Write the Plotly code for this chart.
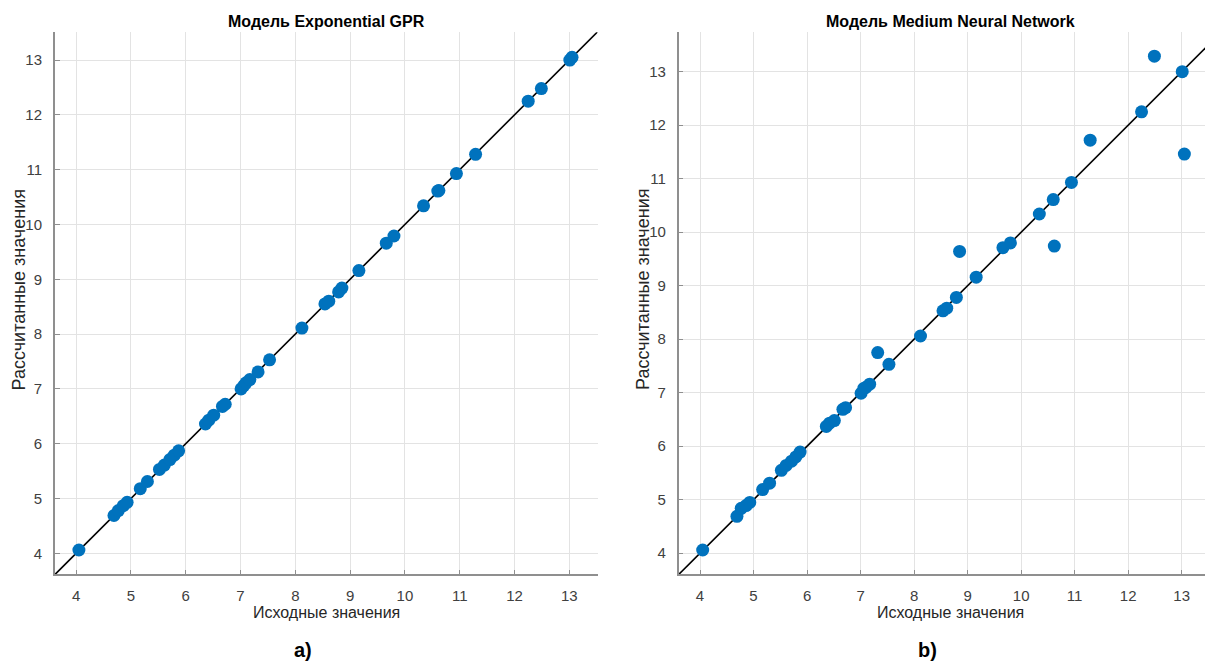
import plotly.graph_objects as go

# ---- data ----
x_true = [4.05, 4.69, 4.77, 4.86, 4.93, 5.17, 5.30, 5.52, 5.61, 5.71, 5.79, 5.87,
          6.36, 6.42, 6.51, 6.67, 6.72, 7.01, 7.06, 7.10, 7.17, 7.32, 7.53, 8.12,
          8.54, 8.61, 8.79, 8.85, 9.16, 9.66, 9.80, 10.34, 10.60, 10.62, 10.94,
          11.29, 12.25, 12.49, 13.01, 13.05]
y_gpr = [4.06, 4.69, 4.78, 4.87, 4.93, 5.18, 5.31, 5.53, 5.61, 5.71, 5.79, 5.87,
         6.36, 6.43, 6.52, 6.68, 6.72, 7.00, 7.06, 7.11, 7.17, 7.31, 7.53, 8.11,
         8.55, 8.60, 8.77, 8.84, 9.16, 9.66, 9.79, 10.34, 10.61, 10.62, 10.93,
         11.28, 12.25, 12.48, 13.00, 13.05]
y_nn = [4.06, 4.69, 4.84, 4.89, 4.95, 5.19, 5.31, 5.55, 5.64, 5.72, 5.80, 5.89,
        6.37, 6.43, 6.48, 6.69, 6.72, 6.99, 7.08, 7.10, 7.16, 7.75, 7.53, 8.06,
        8.53, 8.58, 8.78, 9.64, 9.16, 9.71, 9.80, 10.34, 10.61, 9.74, 10.93,
        11.72, 12.25, 13.29, 13.00, 11.46]
tick_vals = [4, 5, 6, 7, 8, 9, 10, 11, 12, 13]
titles = ["Модель Exponential GPR", "Модель Medium Neural Network"]
panel_labels = ["a)", "b)"]
x_label = "Исходные значения"
y_label = "Рассчитанные значения"

# axis limits
left_xr = [3.61, 13.515]
left_yr = [3.617, 13.507]
right_xr = [3.60, 13.585]
right_yr = [3.606, 13.736]

OFF = 8  # page body margin
W, H = 1213 - OFF, 661 - OFF
def px(v):
    return (v - OFF) / W
def py(v):
    return (H - (v - OFF)) / H

FONT = "Liberation Sans, Arial, sans-serif"
BLUE = "#0072BD"
AX = "#8f8f8f"
GRID = "#e3e3e3"

fig = go.Figure()

fig.add_trace(go.Scatter(x=left_xr, y=left_xr, mode="lines",
                         line=dict(color="black", width=1.6),
                         xaxis="x", yaxis="y", showlegend=False))
fig.add_trace(go.Scatter(x=x_true, y=y_gpr, mode="markers",
                         marker=dict(color=BLUE, size=13, line=dict(width=0)),
                         xaxis="x", yaxis="y", showlegend=False))
fig.add_trace(go.Scatter(x=right_xr, y=right_xr, mode="lines",
                         line=dict(color="black", width=1.6),
                         xaxis="x2", yaxis="y2", showlegend=False))
fig.add_trace(go.Scatter(x=x_true, y=y_nn, mode="markers",
                         marker=dict(color=BLUE, size=13, line=dict(width=0)),
                         xaxis="x2", yaxis="y2", showlegend=False))

def axis(rng, dom, anchor, standoff):
    return dict(range=rng, domain=dom, anchor=anchor, tickvals=tick_vals,
                showgrid=True, gridcolor=GRID, gridwidth=1,
                showline=True, linecolor=AX, linewidth=1.5,
                ticks="inside", ticklen=5, tickcolor=AX, tickwidth=1,
                zeroline=False, mirror=False, fixedrange=True,
                ticklabelstandoff=standoff,
                tickfont=dict(family=FONT, size=15, color="#404040"))

ydom = [py(574.3), py(32.3)]
fig.update_layout(
    width=W, height=H,
    margin=dict(l=0, r=0, t=0, b=0),
    paper_bgcolor="white", plot_bgcolor="white",
    xaxis=axis(left_xr, [px(54.8), px(597.5)], "y", 7),
    yaxis=axis(left_yr, ydom, "x", 8),
    xaxis2=axis(right_xr, [px(678.6), 1.0], "y2", 7),
    yaxis2=axis(right_yr, ydom, "x2", 8),
)

ann = []
def add(text, x, y, size, bold=False, angle=0, color="#262626"):
    ann.append(dict(text=("<b>%s</b>" % text) if bold else text,
                    x=px(x), y=py(y), xref="paper", yref="paper",
                    xanchor="center", yanchor="middle", showarrow=False,
                    textangle=angle,
                    font=dict(family=FONT, size=size, color=color)))

add(titles[0], 326, 21.5, 16, bold=True, color="black")
add(titles[1], 950, 21.5, 16, bold=True, color="black")
add(x_label, 326, 612, 16)
add(x_label, 950, 612, 16)
add(y_label, 18.5, 290, 18, angle=-90)
add(y_label, 643, 290, 18, angle=-90)
add(panel_labels[0], 303, 650, 20, bold=True, color="black")
add(panel_labels[1], 927, 650, 20, bold=True, color="black")
fig.update_layout(annotations=ann)

fig.write_html("out.html")
